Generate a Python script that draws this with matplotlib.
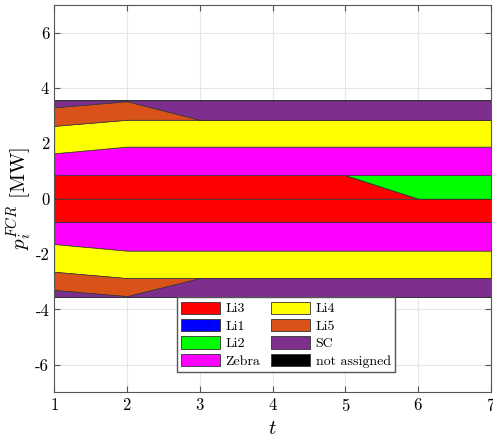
import numpy as np
import matplotlib
matplotlib.use('Agg')
import matplotlib.pyplot as plt
from matplotlib.patches import Patch

plt.rcParams['font.family'] = 'serif'
plt.rcParams['font.serif'] = ['cmr10']
plt.rcParams['mathtext.fontset'] = 'cm'
plt.rcParams['axes.formatter.use_mathtext'] = True

# time steps
t = [1, 2, 3, 4, 5, 6, 7]

# units, in stacking order from 0 outwards
units = ['Li3', 'Li1', 'Li2', 'Zebra', 'Li4', 'Li5', 'SC', 'not assigned']
colors = ['#ff0000', '#0000ff', '#00ff00', '#ff00ff', '#ffff00',
          '#d95319', '#7e2f8e', '#000000']

# upward FCR share per unit [MW]
up_li3 = [0.85, 0.85, 0.85, 0.85, 0.85, 0.0, 0.0]
up_li1 = [0, 0, 0, 0, 0, 0, 0]
up_li2 = [0, 0, 0, 0, 0, 0.85, 0.85]
up_zebra = [0.79, 1.03, 1.03, 1.03, 1.03, 1.03, 1.03]
up_li4 = [0.99, 0.97, 0.97, 0.97, 0.97, 0.97, 0.97]
up_li5 = [0.67, 0.67, 0, 0, 0, 0, 0]
up_sc = [0.25, 0.03, 0.70, 0.70, 0.70, 0.70, 0.70]
up_na = [0, 0, 0, 0, 0, 0, 0]

# downward FCR share per unit [MW]
dn_li3 = [-0.85, -0.85, -0.85, -0.85, -0.85, -0.85, -0.85]
dn_li1 = [0, 0, 0, 0, 0, 0, 0]
dn_li2 = [0, 0, 0, 0, 0, 0, 0]
dn_zebra = [-0.79, -1.03, -1.03, -1.03, -1.03, -1.03, -1.03]
dn_li4 = [-1.0, -0.99, -0.99, -0.99, -0.99, -0.99, -0.99]
dn_li5 = [-0.66, -0.65, 0, 0, 0, 0, 0]
dn_sc = [-0.25, -0.03, -0.68, -0.68, -0.68, -0.68, -0.68]
dn_na = [0, 0, 0, 0, 0, 0, 0]

up = [up_li3, up_li1, up_li2, up_zebra, up_li4, up_li5, up_sc, up_na]
dn = [dn_li3, dn_li1, dn_li2, dn_zebra, dn_li4, dn_li5, dn_sc, dn_na]

fig = plt.figure(figsize=(4.93, 4.41), dpi=100)
ax = fig.add_axes([0.11, 0.11, 0.886, 0.879])

for stack in (up, dn):
    base = np.zeros(len(t))
    for vals, c in zip(stack, colors):
        top = base + np.array(vals)
        ax.fill_between(t, base, top, facecolor=c, edgecolor='#333333',
                        linewidth=0.5, zorder=2)
        base = top

ax.set_xlim(1, 7)
ax.set_ylim(-7, 7)
ax.set_yticks([-6, -4, -2, 0, 2, 4, 6])
ax.set_yticklabels(['-6', '-4', '-2', '0', '2', '4', '6'])
ax.set_xticks(t)
ax.grid(True, color='#e6e6e6', linewidth=0.8, zorder=0)
ax.set_axisbelow(True)
ax.tick_params(direction='in', labelsize=12, length=4, color='#555555',
               top=True, right=True)
for s in ax.spines.values():
    s.set_color('#555555')
ax.set_xlabel('$t$', fontsize=15)
ax.set_ylabel(r'$p_i^{FCR}$ [MW]', fontsize=15, labelpad=2)

handles = [Patch(facecolor=c, edgecolor='#333333', linewidth=0.6) for c in colors]
ax.legend(handles, units, ncol=2, loc='lower center', bbox_to_anchor=(0.53, 0.035),
          fancybox=False, edgecolor='#555555', framealpha=1, fontsize=10,
          handlelength=2.8, handleheight=1.0, labelspacing=0.25,
          columnspacing=0.8, handletextpad=0.4, borderpad=0.3)

fig.savefig('out.png', dpi=100)
